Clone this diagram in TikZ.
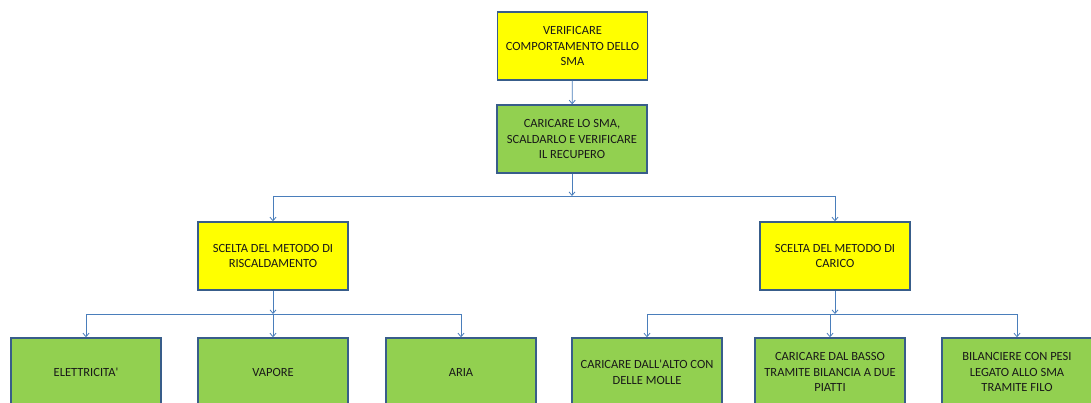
\documentclass[tikz,border=0pt]{standalone}
\usepackage{fontspec}
\setmainfont{Carlito}
\usetikzlibrary{arrows.meta}
\definecolor{boxyellow}{HTML}{FFFF00}
\definecolor{boxgreen}{HTML}{92D050}
\definecolor{boxborder}{HTML}{385D8A}
\definecolor{connblue}{HTML}{4A7EBB}
\tikzset{
  box/.style={draw=boxborder, line width=1.4pt, minimum width=150pt, minimum height=68pt,
    align=center, inner sep=2pt, text=black!90, font=\fontsize{12.5}{15.8}\selectfont},
  ybox/.style={box, fill=boxyellow},
  gbox/.style={box, fill=boxgreen},
  conn/.style={draw=connblue, line width=0.8pt, -{Straight Barb[length=3.5pt,width=6pt]}},
  bus/.style={draw=connblue, line width=0.8pt},
}
\begin{document}
\begin{tikzpicture}[x=1pt,y=-1pt]
\useasboundingbox (0,0) rectangle (1091,403);
\clip (0,0) rectangle (1091,403);
\fill[white] (0,0) rectangle (1091,403);

\node[ybox] (top) at (572.5,46) {VERIFICARE\\COMPORTAMENTO DELLO\\SMA};
\node[gbox] (g2) at (572,139) {CARICARE LO SMA,\\SCALDARLO E VERIFICARE\\IL RECUPERO};
\node[ybox] (yl) at (273,256) {SCELTA DEL METODO DI\\RISCALDAMENTO};
\node[ybox] (yr) at (835,256) {SCELTA DEL METODO DI\\CARICO};

\node[gbox] (b1) at (86,372) {ELETTRICITA\textquotesingle};
\node[gbox] (b2) at (273,372) {VAPORE};
\node[gbox] (b3) at (461,372) {ARIA};
\node[gbox] (b4) at (647,372) {CARICARE DALL\textquotesingle ALTO CON\\DELLE\ MOLLE};
\node[gbox] (b5) at (830,372) {CARICARE DAL BASSO\\TRAMITE BILANCIA A DUE\\PIATTI};
\node[gbox] (b6) at (1017,372) {BILANCIERE CON PESI\\LEGATO ALLO SMA\\TRAMITE FILO};

\coordinate (j1) at (572,196);
\coordinate (jl) at (273,314);
\coordinate (jr) at (835,314);

\draw[conn] (top) -- (g2);

\draw[conn] (g2.south) -- (j1);
\draw[bus] (j1 -| yl.north) -- (j1 -| yr.north);
\draw[conn] (j1 -| yl.north) -- (yl.north);
\draw[conn] (j1 -| yr.north) -- (yr.north);

\draw[conn] (yl.south) -- (jl);
\draw[bus] (jl -| b1.north) -- (jl -| b3.north);
\draw[conn] (jl -| b1.north) -- (b1.north);
\draw[conn] (jl) -- (b2.north);
\draw[conn] (jl -| b3.north) -- (b3.north);

\draw[conn] (yr.south) -- (jr);
\draw[bus] (jr -| b4.north) -- (jr -| b6.north);
\draw[conn] (jr -| b4.north) -- (b4.north);
\draw[conn] (jr -| b5.north) -- (b5.north);
\draw[conn] (jr -| b6.north) -- (b6.north);
\end{tikzpicture}
\end{document}
